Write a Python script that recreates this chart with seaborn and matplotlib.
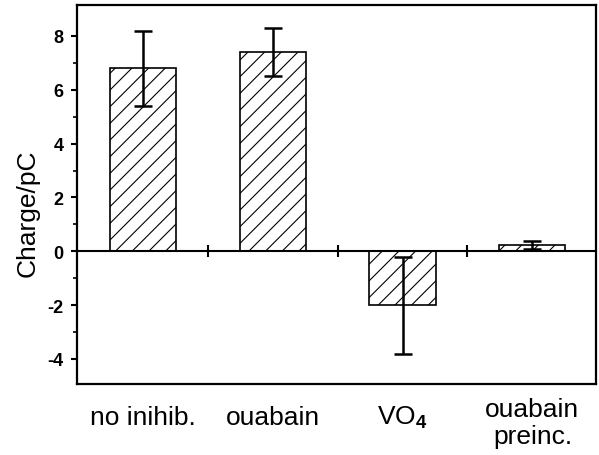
import numpy as np
import pandas as pd
import matplotlib
matplotlib.use("Agg")
import matplotlib.pyplot as plt
import matplotlib.transforms as mtransforms
import seaborn as sns

# Charge measurements per condition (mean and error)
categories = ["no inihib.", "ouabain", r"VO$_\mathbf{4}$", "ouabain\npreinc."]
charge = [6.8, 7.4, -2.0, 0.23]
charge_err = [1.4, 0.9, 1.8, 0.15]
y_ticks = [-4, -2, 0, 2, 4, 6, 8]

sns.set_theme(style="ticks")
plt.rcParams["font.family"] = ["Liberation Sans", "DejaVu Sans"]
plt.rcParams["mathtext.fontset"] = "custom"
plt.rcParams["mathtext.rm"] = "Liberation Sans"
plt.rcParams["mathtext.bf"] = "Liberation Sans:bold"
plt.rcParams["hatch.linewidth"] = 0.8
plt.rcParams["hatch.color"] = "black"

df = pd.DataFrame({"condition": categories, "charge": charge})

fig = plt.figure(figsize=(5.99, 4.56), dpi=100)
ax = fig.add_axes([0.1285, 0.1557, 0.8665, 0.8311])

sns.barplot(data=df, x="condition", y="charge", order=categories,
            color="white", width=0.51, edgecolor="black", linewidth=1.2,
            errorbar=None, ax=ax)
for p in ax.patches:
    p.set_hatch("//")
    p.set_facecolor("white")

xpos = np.arange(len(categories))
ax.errorbar(xpos, charge, yerr=charge_err, fmt="none", ecolor="black",
            elinewidth=1.8, capsize=6.5, capthick=1.8, zorder=5)

# zero line with separators between groups
ax.axhline(0, color="black", lw=1.5, zorder=4)
ax.plot(xpos[:-1] + 0.5, np.zeros(len(categories) - 1), ls="none",
        marker="|", ms=8, mew=1.5, color="black", zorder=4)

ax.set_xlim(-0.508, len(categories) - 0.51)
ax.set_ylim(-4.93, 9.15)
ax.set_yticks(y_ticks)
ax.set_yticks(np.arange(-3, 9, 2), minor=True)
ax.set_yticklabels([str(t) for t in y_ticks], fontsize=13, fontweight="bold")
ax.tick_params(axis="y", which="major", direction="out", length=4.5, width=1.5, pad=5, colors="black")
ax.tick_params(axis="y", which="minor", direction="out", length=3, width=1.2, colors="black")
ax.tick_params(axis="x", length=0, pad=23.5, labelsize=19, colors="black")
xlabels = ax.get_xticklabels()
for lbl in xlabels:
    lbl.set_verticalalignment("center")
    lbl.set_linespacing(1.15)
# the two-line label sits a little lower
shift = mtransforms.ScaledTranslation(0, -4 / 72, fig.dpi_scale_trans)
xlabels[-1].set_transform(xlabels[-1].get_transform() + shift)
ax.set_xlabel("")
ax.set_ylabel("Charge/pC", fontsize=19, color="black")
ax.yaxis.set_label_coords(-0.072, 0.454)

for s in ax.spines.values():
    s.set_visible(True)
    s.set_color("black")
    s.set_linewidth(1.6)

fig.savefig("out.png", dpi=100)
